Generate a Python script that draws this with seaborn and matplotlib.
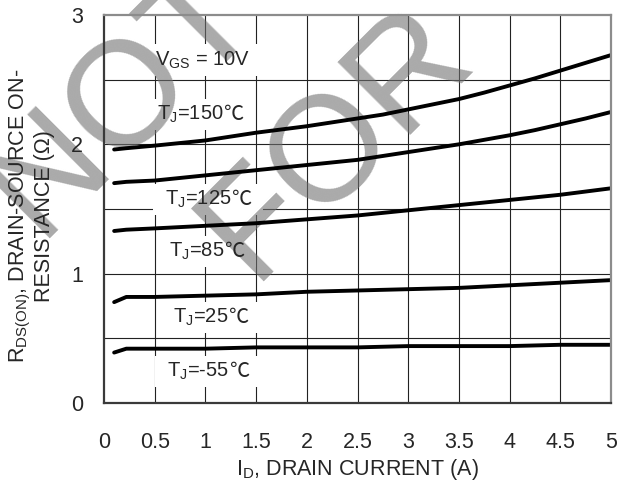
import numpy as np
import pandas as pd
import matplotlib
matplotlib.use("Agg")
import matplotlib.pyplot as plt
import seaborn as sns
from matplotlib.patches import Rectangle
from matplotlib.transforms import Bbox

# Curve values (RDS(on) vs ID, VGS = 10V)
drain_current = [0.1, 0.22, 0.5, 1.0, 1.5, 2.0, 2.5, 2.75, 3.0, 3.25, 3.5, 3.75,
                 4.0, 4.25, 4.5, 4.75, 5.0]
rds_150c = [1.96, 1.97, 1.99, 2.03, 2.09, 2.14, 2.20, 2.23, 2.27, 2.31, 2.35, 2.40,
            2.455, 2.51, 2.57, 2.63, 2.69]
rds_125c = [1.70, 1.71, 1.72, 1.76, 1.80, 1.84, 1.88, 1.91, 1.94, 1.97, 2.00, 2.035,
            2.07, 2.11, 2.155, 2.20, 2.25]
rds_85c = [1.33, 1.34, 1.35, 1.37, 1.39, 1.42, 1.45, 1.47, 1.49, 1.51, 1.53, 1.55,
           1.57, 1.59, 1.61, 1.635, 1.66]
rds_25c = [0.78, 0.82, 0.82, 0.83, 0.84, 0.86, 0.87, 0.875, 0.88, 0.885, 0.89, 0.90,
           0.91, 0.92, 0.93, 0.94, 0.95]
rds_m55c = [0.39, 0.42, 0.42, 0.42, 0.43, 0.43, 0.43, 0.435, 0.44, 0.44, 0.44, 0.44,
            0.44, 0.445, 0.45, 0.45, 0.45]
temps = ["150", "125", "85", "25", "-55"]

x_ticks = [0, 0.5, 1, 1.5, 2, 2.5, 3, 3.5, 4, 4.5, 5]
x_tick_labels = ["0", "0.5", "1", "1.5", "2", "2.5", "3", "3.5", "4", "4.5", "5"]
y_ticks = [0, 1, 2, 3]
y_tick_labels = ["0", "1", "2", "3"]

sns.set_style("white")
plt.rcParams["font.family"] = ["Liberation Sans", "DejaVu Sans"]
plt.rcParams["mathtext.fontset"] = "custom"
plt.rcParams["mathtext.rm"] = "Liberation Sans"
plt.rcParams["mathtext.it"] = "Liberation Sans:italic"
plt.rcParams["mathtext.bf"] = "Liberation Sans:bold"

df = pd.DataFrame({
    "id": drain_current * len(temps),
    "rds": rds_150c + rds_125c + rds_85c + rds_25c + rds_m55c,
    "tj": [t for t in temps for _ in drain_current],
})

fig = plt.figure(figsize=(6.18, 4.82), dpi=100)
ax = fig.add_axes([0.1683, 0.1639, 0.8204, 0.805])

sns.lineplot(data=df, x="id", y="rds", units="tj", estimator=None, sort=False,
             color="black", linewidth=2.8, ax=ax, zorder=3)

ax.set_xlim(0, 5)
ax.set_ylim(0, 3)

# grid every 0.5 on both axes
for v in x_ticks[1:-1]:
    ax.axvline(v, color="#222222", lw=0.8, zorder=0.5)
for v in np.arange(0.5, 3, 0.5):
    ax.axhline(v, color="#222222", lw=0.8, zorder=0.5)

ax.set_xticks(x_ticks)
ax.set_xticklabels(x_tick_labels)
ax.set_yticks(y_ticks)
ax.set_yticklabels(y_tick_labels)
ax.tick_params(axis="x", length=0, labelsize=15.5, pad=21)
ax.tick_params(axis="y", length=0, labelsize=15.5, pad=15)
ax.xaxis.set_zorder(4)
ax.yaxis.set_zorder(4)

ax.set_xlabel("I$_\\mathregular{D}$, DRAIN CURRENT (A)", fontsize=15.5, labelpad=3)
ax.set_ylabel("R$_\\mathregular{DS(ON)}$, DRAIN-SOURCE ON-\nRESISTANCE (Ω)",
              fontsize=15.5, linespacing=1.05)
ax.yaxis.set_label_coords(-0.097, 0.482)

for side in ["left", "bottom"]:
    ax.spines[side].set_color("#3a3a3a")
    ax.spines[side].set_linewidth(1.6)
for side in ["top", "right"]:
    ax.spines[side].set_color("#8c8c8c")
    ax.spines[side].set_linewidth(1.6)
for sp in ax.spines.values():
    sp.set_zorder(3)

# watermark
ax.text(0.0615, 0.506, "NOT", transform=fig.transFigure, rotation=45,
        rotation_mode="anchor", ha="left", va="baseline", fontsize=108,
        color="#717171", alpha=0.6, zorder=1.5, clip_on=False)
ax.text(0.408, 0.417, "FOR", transform=fig.transFigure, rotation=45,
        rotation_mode="anchor", ha="left", va="baseline", fontsize=108,
        color="#717171", alpha=0.6, zorder=1.5, clip_on=False)

# curve annotations
labels = [
    ("V$_\\mathregular{GS}$ = 10V", "", 0.50, 2.61),
    ("T$_\\mathregular{J}$=150", "℃", 0.52, 2.19),
    ("T$_\\mathregular{J}$=125", "℃", 0.60, 1.53),
    ("T$_\\mathregular{J}$=85", "℃", 0.64, 1.13),
    ("T$_\\mathregular{J}$=25", "℃", 0.68, 0.62),
    ("T$_\\mathregular{J}$=-55", "℃", 0.62, 0.20),
]
groups = []
for main, unit, lx, ly in labels:
    t = ax.text(lx, ly, main, ha="left", va="baseline", fontsize=14.5, zorder=4)
    group = [t]
    if unit:
        u = ax.annotate(unit, xy=(1, ly), xycoords=(t, "data"), ha="left",
                        va="baseline", fontsize=14.5, zorder=4,
                        fontfamily=["Noto Sans CJK JP", "DejaVu Sans"])
        group.append(u)
    groups.append(group)

# white boxes behind the labels that break the grid
fig.canvas.draw()
renderer = fig.canvas.get_renderer()
inv = ax.transData.inverted()
for group in groups:
    bb = Bbox.union([a.get_window_extent(renderer) for a in group])
    (x0, y0), (x1, y1) = inv.transform([[bb.x0 - 12, bb.y0 - 5], [bb.x1 + 12, bb.y1 + 5]])
    ax.add_patch(Rectangle((x0, y0), x1 - x0, y1 - y0, facecolor="white",
                           edgecolor="none", zorder=1))

fig.savefig("out.png", dpi=100)
plt.close(fig)
